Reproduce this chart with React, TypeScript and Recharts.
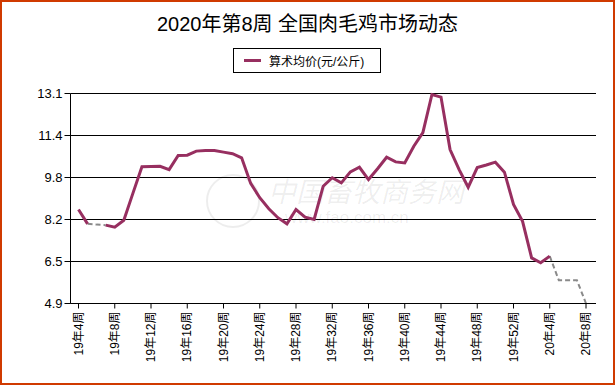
import React from "react";
import { LineChart, Line, XAxis, YAxis, CartesianGrid } from "recharts";

const weeks = [
  "19年4周", "19年5周", "19年6周", "19年7周", "19年8周", "19年9周", "19年10周", "19年11周",
  "19年12周", "19年13周", "19年14周", "19年15周", "19年16周", "19年17周", "19年18周", "19年19周",
  "19年20周", "19年21周", "19年22周", "19年23周", "19年24周", "19年25周", "19年26周", "19年27周",
  "19年28周", "19年29周", "19年30周", "19年31周", "19年32周", "19年33周", "19年34周", "19年35周",
  "19年36周", "19年37周", "19年38周", "19年39周", "19年40周", "19年41周", "19年42周", "19年43周",
  "19年44周", "19年45周", "19年46周", "19年47周", "19年48周", "19年49周", "19年50周", "19年51周",
  "19年52周", "20年1周", "20年2周", "20年3周", "20年4周", "20年5周", "20年6周", "20年7周",
  "20年8周",
];

// 算术均价 (实测)
const avgPrice: (number | null)[] = [
  8.57, 8.01, null, 7.96, 7.88, 8.15, 9.2, 10.24,
  10.25, 10.26, 10.13, 10.68, 10.69, 10.85, 10.87, 10.87,
  10.81, 10.75, 10.59, 9.59, 9.03, 8.6, 8.25, 8.01,
  8.57, 8.27, 8.18, 9.48, 9.81, 9.61, 10.04, 10.22,
  9.74, 10.16, 10.61, 10.43, 10.39, 11.04, 11.57, 13.06,
  12.96, 10.91, 10.13, 9.44, 10.21, 10.31, 10.42, 10.03,
  8.77, 8.11, 6.68, 6.49, 6.75, null, null, null,
  null,
];

// 缺失数据段 (虚线)
const gapPrice: (number | null)[] = [
  null, 8.01, 7.98, 7.96, null, null, null, null,
  null, null, null, null, null, null, null, null,
  null, null, null, null, null, null, null, null,
  null, null, null, null, null, null, null, null,
  null, null, null, null, null, null, null, null,
  null, null, null, null, null, null, null, null,
  null, null, null, null, 6.75, 5.81, 5.81, 5.81,
  4.9,
];

const yTicks = [4.9, 6.54, 8.18, 9.82, 11.46, 13.1];
const yTickLabels = ["4.9", "6.5", "8.2", "9.8", "11.4", "13.1"];

const data = weeks.map((week, i) => ({
  week,
  avg: avgPrice[i],
  gap: gapPrice[i],
}));

const FONT = '"Liberation Sans", Arial, "Noto Sans CJK SC", sans-serif';
const PURPLE = "#972f60";

const XTick = (props: any) => {
  const { x, y, payload } = props;
  return (
    <text
      x={x}
      y={y}
      transform={`rotate(-90, ${x}, ${y})`}
      textAnchor="end"
      dy="0.35em"
      fontSize={12}
      fontFamily={FONT}
      fill="#000"
    >
      {payload.value}
    </text>
  );
};

export default function App() {
  return (
    <div
      style={{
        position: "absolute",
        left: 0,
        top: 0,
        width: 615,
        height: 385,
        background: "#fff",
        fontFamily: FONT,
      }}
    >
      <div
        style={{
          position: "absolute",
          top: 8,
          left: 0,
          width: 615,
          textAlign: "center",
          fontSize: 20,
          color: "#000",
        }}
      >
        2020年第8周 全国肉毛鸡市场动态
      </div>
      <div
        style={{
          position: "absolute",
          left: 233,
          top: 48,
          width: 146,
          height: 23,
          border: "1px solid #000",
          display: "flex",
          alignItems: "center",
          fontSize: 12,
          background: "#fff",
        }}
      >
        <div style={{ width: 17, height: 3, background: PURPLE, marginLeft: 10, marginRight: 8 }} />
        <span>算术均价(元/公斤)</span>
      </div>
      <div
        style={{
          position: "absolute",
          left: 200,
          top: 170,
          color: "rgba(0,0,0,0.07)",
          pointerEvents: "none",
        }}
      >
        <div
          style={{
            position: "absolute",
            left: 6,
            top: 4,
            width: 50,
            height: 50,
            borderRadius: "50%",
            border: "2px solid rgba(0,0,0,0.07)",
          }}
        />
        <div style={{ position: "absolute", left: 68, top: 0, fontSize: 28, whiteSpace: "nowrap", fontStyle: "italic" }}>
          中国畜牧商务网
        </div>
        <div style={{ position: "absolute", left: 85, top: 38, fontSize: 17, whiteSpace: "nowrap" }}>
          www.fao.com.cn
        </div>
      </div>
      <LineChart
        width={615}
        height={385}
        data={data}
        margin={{ top: 93.5, right: 19, bottom: 0, left: 0.5 }}
        style={{ position: "absolute", left: 0, top: 0 }}
      >
        <CartesianGrid vertical={false} stroke="#000" strokeWidth={1} />
        <XAxis
          dataKey="week"
          interval={3}
          height={81.5}
          padding={{ left: 8, right: 10 }}
          axisLine={{ stroke: "#000" }}
          tickLine={{ stroke: "#000" }}
          tickSize={5}
          tickMargin={3}
          tick={<XTick />}
        />
        <YAxis
          domain={[4.9, 13.1]}
          ticks={yTicks}
          width={70}
          tickFormatter={(v: number) => yTickLabels[yTicks.indexOf(v)] ?? String(v)}
          axisLine={{ stroke: "#000" }}
          tickLine={{ stroke: "#000" }}
          tickSize={6}
          tick={{ fill: "#000", fontSize: 13, fontFamily: FONT }}
        />
        <Line
          type="linear"
          dataKey="gap"
          stroke="#8a8a8a"
          strokeWidth={2}
          strokeDasharray="5 3"
          dot={false}
          isAnimationActive={false}
          connectNulls={false}
          legendType="none"
        />
        <Line
          type="linear"
          dataKey="avg"
          stroke={PURPLE}
          strokeWidth={3}
          dot={false}
          isAnimationActive={false}
          connectNulls={false}
        />
      </LineChart>
      <div
        style={{
          position: "absolute",
          left: 0,
          top: 0,
          width: 615,
          height: 385,
          boxSizing: "border-box",
          border: "2px solid #d03a00",
          pointerEvents: "none",
        }}
      />
    </div>
  );
}
